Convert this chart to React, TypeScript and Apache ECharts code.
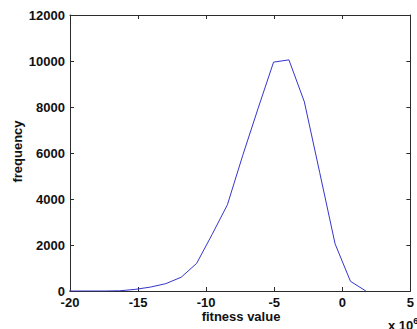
import React, { useEffect, useRef } from "react";
import * as echarts from "echarts";

// Histogram bin centres (fitness value, in units of 1e6) and counts per bin
const binCenters = [
  -20.87, -19.74, -18.61, -17.48, -16.35, -15.22, -14.09, -12.96, -11.83, -10.7,
  -9.57, -8.44, -7.31, -6.18, -5.05, -3.92, -2.79, -1.66, -0.53, 0.6, 1.73,
];
const frequency = [
  0, 0, 0, 0, 10, 70, 170, 320, 600, 1200,
  2450, 3750, 5900, 7950, 9950, 10050, 8230, 5150, 2050, 420, 0,
];
const xTicks = { min: -20, max: 5, step: 5 };
const yTicks = { min: 0, max: 12000, step: 2000 };

const FONT = "Liberation Sans, Arial, Helvetica, sans-serif";
const AXIS_COLOR = "#2b2b2b";
const TEXT_COLOR = "#111111";
const LINE_COLOR = "#3535cc";

export default function App() {
  const ref = useRef<HTMLDivElement>(null);

  useEffect(() => {
    if (!ref.current) return;
    const chart = echarts.init(ref.current, null, { renderer: "svg" });

    const baseAxisLine = {
      show: true,
      onZero: false,
      lineStyle: { color: AXIS_COLOR, width: 1 },
    };
    const tickStyle = {
      show: true,
      inside: true,
      length: 4,
      lineStyle: { color: AXIS_COLOR, width: 1 },
    };
    const labelStyle = {
      color: TEXT_COLOR,
      fontFamily: FONT,
      fontSize: 13,
      fontWeight: "bold" as const,
      formatter: (v: number) => String(v),
    };

    chart.setOption({
      animation: false,
      backgroundColor: "#ffffff",
      grid: { left: 70, top: 15, width: 349, height: 276, containLabel: false },
      xAxis: [
        {
          type: "value",
          position: "bottom",
          min: xTicks.min,
          max: xTicks.max,
          interval: xTicks.step,
          axisLine: baseAxisLine,
          axisTick: tickStyle,
          axisLabel: { ...labelStyle, margin: 5 },
          splitLine: { show: false },
        },
        {
          type: "value",
          position: "top",
          min: xTicks.min,
          max: xTicks.max,
          interval: xTicks.step,
          axisLine: baseAxisLine,
          axisTick: tickStyle,
          axisLabel: { show: false },
          splitLine: { show: false },
        },
      ],
      yAxis: [
        {
          type: "value",
          position: "left",
          min: yTicks.min,
          max: yTicks.max,
          interval: yTicks.step,
          axisLine: baseAxisLine,
          axisTick: tickStyle,
          axisLabel: { ...labelStyle, margin: 5 },
          splitLine: { show: false },
        },
        {
          type: "value",
          position: "right",
          min: yTicks.min,
          max: yTicks.max,
          interval: yTicks.step,
          axisLine: baseAxisLine,
          axisTick: tickStyle,
          axisLabel: { show: false },
          splitLine: { show: false },
        },
      ],
      series: [
        {
          type: "line",
          xAxisIndex: 0,
          yAxisIndex: 0,
          data: binCenters.map((x, i) => [x, frequency[i]]),
          showSymbol: false,
          symbol: "none",
          clip: true,
          lineStyle: { color: LINE_COLOR, width: 1 },
        },
      ],
      graphic: [
        {
          type: "text",
          x: 241,
          y: 316,
          style: {
            text: "fitness value",
            fill: TEXT_COLOR,
            font: `bold 13px ${FONT}`,
            align: "center",
            verticalAlign: "middle",
          },
        },
        {
          type: "text",
          x: 17.5,
          y: 151.5,
          rotation: Math.PI / 2,
          style: {
            text: "frequency",
            fill: TEXT_COLOR,
            font: `bold 13px ${FONT}`,
            align: "center",
            verticalAlign: "middle",
          },
        },
        {
          type: "text",
          x: 388,
          y: 325,
          style: {
            text: "x 10{sup|6}",
            fill: TEXT_COLOR,
            font: `bold 13px ${FONT}`,
            align: "left",
            verticalAlign: "middle",
            rich: {
              sup: {
                fontFamily: FONT,
                fontWeight: "bold",
                fontSize: 9,
                fill: TEXT_COLOR,
                padding: [0, 0, 8, 0],
              },
            },
          },
        },
      ],
    });

    return () => chart.dispose();
  }, []);

  return (
    <div
      ref={ref}
      style={{ position: "fixed", left: 0, top: 0, width: 417, height: 329, background: "#fff" }}
    />
  );
}
